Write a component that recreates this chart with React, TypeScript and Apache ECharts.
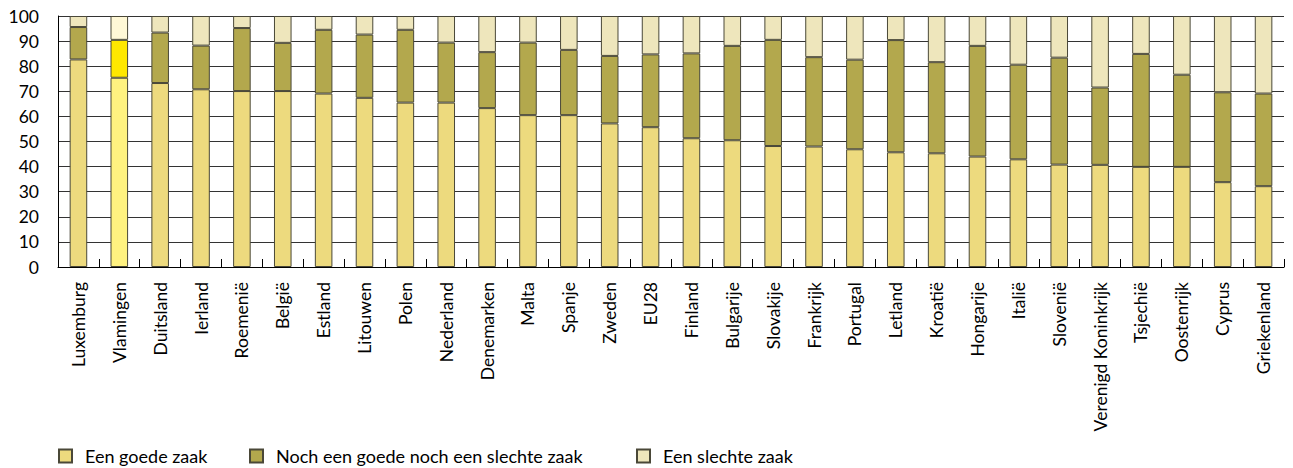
import React, { useEffect, useRef } from "react";
import * as echarts from "echarts";

const categories = [
  "Luxemburg", "Vlamingen", "Duitsland", "Ierland", "Roemenië", "België", "Estland",
  "Litouwen", "Polen", "Nederland", "Denemarken", "Malta", "Spanje", "Zweden", "EU28",
  "Finland", "Bulgarije", "Slovakije", "Frankrijk", "Portugal", "Letland", "Kroatië",
  "Hongarije", "Italië", "Slovenië", "Verenigd Koninkrijk", "Tsjechië", "Oostenrijk",
  "Cyprus", "Griekenland",
];

const goed = [
  82.7, 75.4, 73.3, 70.8, 70.1, 70.1, 69.1, 67.4, 65.5, 65.5, 63.3, 60.5, 60.5, 57.2, 55.7,
  51.3, 50.5, 48.2, 48.0, 46.9, 45.7, 45.3, 44.0, 42.9, 40.8, 40.7, 39.9, 39.9, 33.8, 32.2,
];
const noch = [
  12.9, 15.1, 20.1, 17.4, 25.1, 19.2, 25.4, 25.2, 29.0, 23.9, 22.3, 28.9, 26.0, 26.9, 29.0,
  33.8, 37.6, 42.3, 35.6, 35.7, 44.7, 36.3, 44.1, 37.7, 42.6, 30.8, 45.0, 36.7, 35.8, 36.9,
];
const slecht = [
  4.4, 9.5, 6.6, 11.8, 4.8, 10.7, 5.5, 7.4, 5.5, 10.6, 14.4, 10.6, 13.5, 15.9, 15.3,
  14.9, 11.9, 9.5, 16.4, 17.4, 9.6, 18.4, 11.9, 19.4, 16.6, 28.5, 15.1, 23.4, 30.4, 30.9,
];

const seriesNames = ["Een goede zaak", "Noch een goede noch een slechte zaak", "Een slechte zaak"];
const yTicks = [0, 10, 20, 30, 40, 50, 60, 70, 80, 90, 100];

const highlight = "Vlamingen";
const baseColors = ["#EDDA7E", "#B3A84D", "#EEE6BC"];
const highlightColors = ["#FFF280", "#FFE800", "#FFF8D6"];

const FONT = "Lato";

export default function App() {
  const ref = useRef<HTMLDivElement>(null);

  useEffect(() => {
    if (!ref.current) return;
    const chart = echarts.init(ref.current, undefined, { renderer: "svg" });
    const datasets = [goed, noch, slecht];
    const border = { borderColor: "#4a4838", borderWidth: 1 };
    const series = datasets.map((vals, si) => ({
      name: seriesNames[si],
      type: "bar",
      stack: "total",
      barWidth: "43%",
      itemStyle: { color: baseColors[si], ...border },
      data: vals.map((v, i) =>
        categories[i] === highlight
          ? { value: v, itemStyle: { color: highlightColors[si], ...border } }
          : v
      ),
    }));
    const legendLefts = [58, 249, 636];
    const legend = seriesNames.map((n, i) => ({
      data: [n],
      left: legendLefts[i],
      top: 447,
      padding: 0,
      icon: "rect",
      itemWidth: 13,
      itemHeight: 13,
      selectedMode: false,
      textStyle: { fontFamily: FONT, fontSize: 18, color: "#000", padding: [0, 0, 0, 8] },
    }));
    chart.setOption({
      animation: false,
      backgroundColor: "#fff",
      textStyle: { fontFamily: FONT },
      grid: { left: 58, right: 9, top: 16, bottom: 201, containLabel: false },
      legend,
      xAxis: {
        type: "category",
        data: categories,
        axisLine: { show: true, lineStyle: { color: "#000", width: 1 } },
        axisTick: { show: true, inside: true, length: 8, lineStyle: { color: "#000" } },
        axisLabel: {
          rotate: 90,
          interval: 0,
          margin: 15,
          fontFamily: FONT,
          fontSize: 17.5,
          color: "#000",
        },
        splitLine: { show: false },
      },
      yAxis: {
        type: "value",
        min: yTicks[0],
        max: yTicks[yTicks.length - 1],
        interval: 10,
        axisLine: { show: true, lineStyle: { color: "#000", width: 1 } },
        axisTick: { show: false },
        axisLabel: { margin: 19, fontFamily: FONT, fontSize: 17.5, color: "#000" },
        splitLine: { show: true, lineStyle: { color: "#333", width: 1 } },
      },
      series,
    });
    return () => chart.dispose();
  }, []);

  return (
    <div
      ref={ref}
      style={{ position: "absolute", left: 0, top: 0, width: 1293, height: 468 }}
    />
  );
}
